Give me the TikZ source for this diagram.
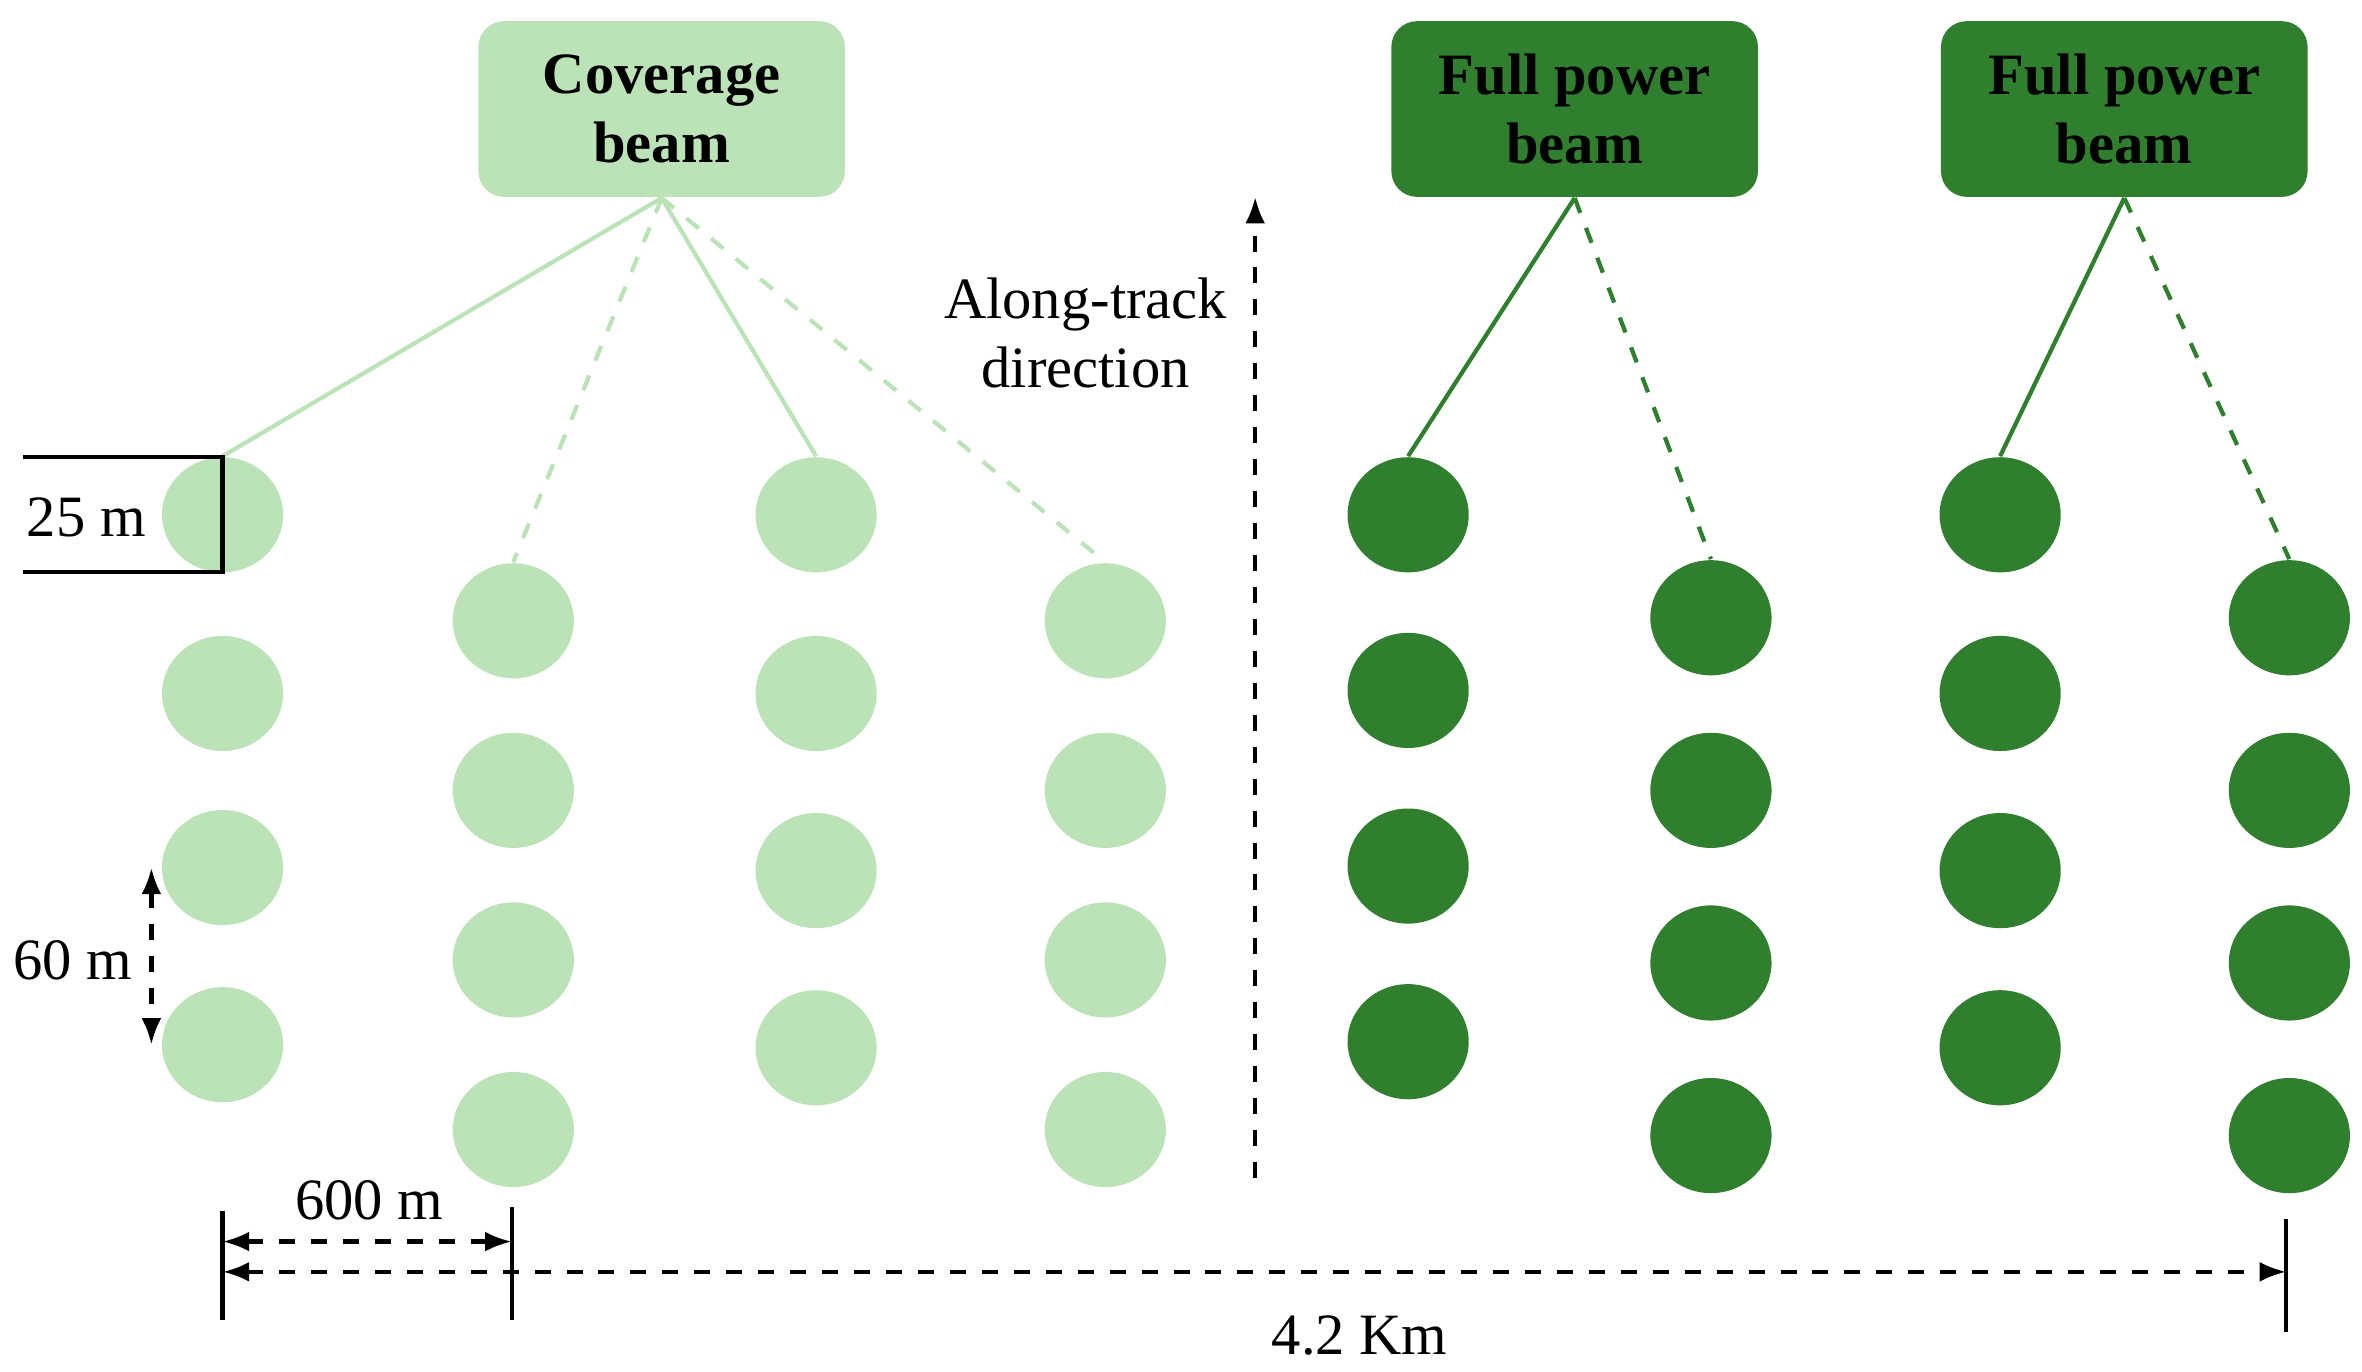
\documentclass[tikz,border=0pt]{standalone}
\usepackage{fontspec}
\setmainfont{Liberation Serif}
\usetikzlibrary{arrows.meta,shapes.geometric}
\definecolor{lg}{HTML}{BCE3B8}
\definecolor{dg}{HTML}{2F7F2E}
\begin{document}
\begin{tikzpicture}[x=0.01cm,y=-0.01cm,
  lc/.style={ellipse,fill=lg,minimum width=0.8cm,minimum height=0.76cm,inner sep=0},
  dc/.style={ellipse,fill=dg,minimum width=0.8cm,minimum height=0.76cm,inner sep=0},
  box/.style={rounded corners=0.17cm,minimum width=2.42cm,minimum height=1.16cm,align=center,font=\fontsize{11}{13}\selectfont\bfseries,inner sep=0},
  lab/.style={font=\fontsize{11}{13}\selectfont,align=center,inner sep=0},
  dim/.style={thick,dashed,{Latex[length=5pt]}-{Latex[length=5pt]}},
  tick/.style={thick}]
\useasboundingbox (0,0) rectangle (1560,906);
\node[box,fill=lg] (cb) at (437,72) {Coverage\\beam};
\node[box,fill=dg] (fp1) at (1040,72) {Full power\\beam};
\node[box,fill=dg] (fp2) at (1403,72) {Full power\\beam};
\foreach \n/\x/\ys/\st in {a/147/{340,458,573,690}/lc, b/339/{410,522,634,746}/lc, c/539/{340,458,575,692}/lc, d/730/{410,522,634,746}/lc,
  e/930/{340,456,572,688}/dc, f/1130/{408,522,636,750}/dc, g/1321/{340,458,575,692}/dc, h/1512/{408,522,636,750}/dc}{
  \foreach \y [count=\i] in \ys { \node[\st] (\n\i) at (\x,\y) {}; }
}
\draw[lg,thick] (cb.south) -- (a1.north);
\draw[lg,thick,dashed] (cb.south) -- (b1.north);
\draw[lg,thick] (cb.south) -- (c1.north);
\draw[lg,thick,dashed] (cb.south) -- (d1.north);
\draw[dg,thick] (fp1.south) -- (e1.north);
\draw[dg,thick,dashed] (fp1.south) -- (f1.north);
\draw[dg,thick] (fp2.south) -- (g1.north);
\draw[dg,thick,dashed] (fp2.south) -- (h1.north);
% 25 m
\draw[thick] (15,302) -- (147,302) -- (147,378) -- (15,378);
\node[lab] (t25) at (57,342) {25 m};
% 60 m
\coordinate (s1) at (100,573); \coordinate (s2) at (100,690);
\draw[dim] (s1) -- (s2);
\node[lab] (t60) at (48,634) {60 m};
% along track
\coordinate (at1) at (829,778); \coordinate (at2) at (829,130);
\draw[thick,dashed,-{Latex[length=5pt]}] (at1) -- (at2);
\node[lab] (atl) at (717,220) {Along-track\\direction};
% 600 m and 4.2 km
\coordinate (k1a) at (147,800); \coordinate (k1b) at (147,872);
\coordinate (k2a) at (338,797); \coordinate (k2b) at (338,872);
\coordinate (k3a) at (1510,805); \coordinate (k3b) at (1510,880);
\draw[tick] (k1a) -- (k1b); \draw[tick] (k2a) -- (k2b); \draw[tick] (k3a) -- (k3b);
\coordinate (p1) at (147,820); \coordinate (p2) at (338,820);
\draw[dim] (p1) -- (p2);
\node[lab] (t600) at (244,793) {600 m};
\coordinate (q1) at (147,840); \coordinate (q2) at (1510,840);
\draw[dim] (q1) -- (q2);
\node[lab] (t42) at (898,882) {4.2 Km};
\end{tikzpicture}
\end{document}
